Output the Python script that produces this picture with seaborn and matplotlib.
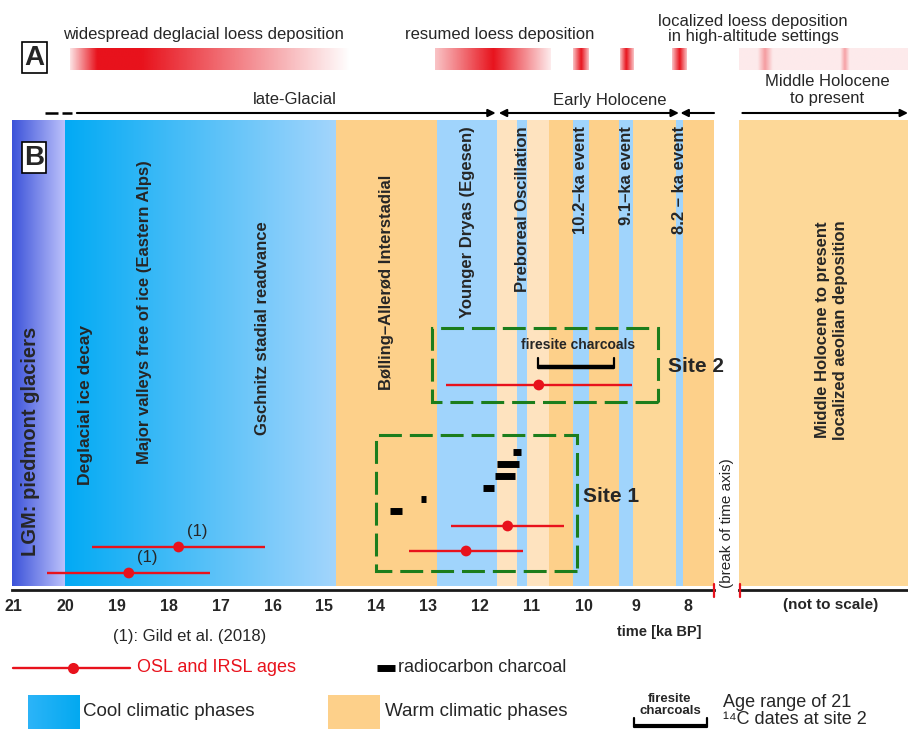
import numpy as np
import pandas as pd
import matplotlib
matplotlib.use("Agg")
import matplotlib.pyplot as plt
import matplotlib.colors as mcolors
from matplotlib.patches import Rectangle
import seaborn as sns

sns.set_style("white")
plt.rcParams["font.family"] = ["Liberation Sans", "DejaVu Sans"]

# ---------------- data (ages in ka BP) ----------------
# gradient-coloured cold intervals
lgm_span = (21.02, 20.0)
deglacial_span = (20.0, 14.78)

# late-Glacial / Early Holocene climate phases
phase_start = [14.78, 12.83, 11.675, 11.29, 11.10, 10.67, 10.21, 9.90, 9.32, 9.05, 8.23, 8.09]
phase_end = [12.83, 11.675, 11.29, 11.10, 10.67, 10.21, 9.90, 9.32, 9.05, 8.23, 8.09, 7.494]
phase_kind = ["warm", "cool", "mild", "cool", "mild", "warm", "cool", "warm",
              "cool", "warm2", "cool", "warm"]

phase_labels = ["LGM: piedmont glaciers", "Deglacial ice decay",
                "Major valleys free of ice (Eastern Alps)", "Gschnitz stadial readvance",
                "Bølling–Allerød Interstadial", "Younger Dryas (Egesen)",
                "Preboreal Oscillation", "10.2–ka event", "9.1–ka event", "8.2 – ka event"]
phase_label_age = [20.67, 19.61, 18.46, 16.20, 13.80, 12.25, 11.19, 10.06, 9.18, 8.16]

# loess deposition episodes (knots of intensity profile)
loess_knots = [[19.90, 19.38, 18.50, 14.51],
               [12.87, 11.75, 10.65],
               [10.21, 10.06, 9.92],
               [9.31, 9.19, 9.05],
               [8.30, 8.16, 8.03]]
loess_intensity = [[0.12, 1.0, 1.0, 0.0],
                   [0.25, 1.0, 0.08],
                   [0.25, 1.0, 0.25],
                   [0.25, 1.0, 0.25],
                   [0.25, 1.0, 0.25]]
# Middle Holocene to present (relative position, not to scale)
late_loess_knots = [-0.024, 0.11, 0.154, 0.20, 0.60, 0.627, 0.655, 1.0]
late_loess_intensity = [0.09, 0.09, 0.42, 0.09, 0.09, 0.40, 0.09, 0.09]

# OSL / IRSL ages
osl_age = [17.81, 18.77, 11.47, 12.27, 10.87]
osl_err = [1.66, 1.57, 1.09, 1.10, 1.79]
osl_note = ["(1)", "(1)", "", "", ""]
osl_lane = [4.3, 1.7, 6.4, 3.9, 20.5]

# radiocarbon charcoal (calibrated ranges), site 1
c14_old = [13.74, 13.14, 11.94, 11.71, 11.67, 11.37]
c14_young = [13.51, 13.04, 11.73, 11.33, 11.25, 11.21]
c14_lane = [7.9, 9.1, 10.2, 11.4, 12.6, 13.8]

# firesite charcoals, site 2 (range of 21 14C dates)
firesite_range = (10.89, 9.42)

# site windows
site_names = ["Site 1", "Site 2"]
site_old = [14.01, 12.93]
site_young = [10.13, 8.57]

ticks = list(range(21, 7, -1))

# ---------------- colours ----------------
RED = "#e8121c"
DOT = "#e8121c"
ORANGE = "#fdd08a"
ORANGE2 = "#fdd898"
PEACH = "#fee3bf"
BLUE = "#a0d4fc"
GREEN = "#1c7d1c"
kind_color = {"warm": ORANGE, "warm2": ORANGE2, "mild": PEACH, "cool": BLUE}

W, H = 908, 729
fig = plt.figure(figsize=(W / 100, H / 100), dpi=100)

ax = fig.add_axes([12 / W, 139 / H, 702 / W, 590 / H])
axr = fig.add_axes([739 / W, 139 / H, 169 / W, 590 / H])

BAND_BOT, BAND_TOP = 0.4, 47.0
XLIM = (21.02, 7.494)
YLIM = (0, 59)


def color_strip(a, x0, x1, c0, c1, y0, y1, n=400):
    t = np.linspace(0, 1, n)[:, None]
    rgb = (1 - t) * np.array(mcolors.to_rgb(c0)) + t * np.array(mcolors.to_rgb(c1))
    a.imshow(rgb[None, :, :], extent=(x0, x1, y0, y1), aspect="auto",
             interpolation="bilinear", origin="lower", zorder=1)


def alpha_strip(a, knots, vals, y0, y1, rgb, n=800):
    k = np.asarray(knots, float)
    v = np.asarray(vals, float)
    xs = np.linspace(k[0], k[-1], n)
    order = np.argsort(k)
    al = np.interp(xs, k[order], v[order])
    img = np.zeros((1, n, 4))
    img[..., :3] = mcolors.to_rgb(rgb)
    img[0, :, 3] = al
    a.imshow(img, extent=(k[0], k[-1], y0, y1), aspect="auto",
             interpolation="bilinear", origin="lower", zorder=2)


# ---------------- panel B: climate bands ----------------
color_strip(ax, lgm_span[0], lgm_span[1], "#3b52d9", "#bcc1fb", BAND_BOT, BAND_TOP)
color_strip(ax, deglacial_span[0], deglacial_span[1], "#02aaf4", "#a3d5fc", BAND_BOT, BAND_TOP)
for s, e, k in zip(phase_start, phase_end, phase_kind):
    ax.fill_between([s, e], BAND_BOT, BAND_TOP, color=kind_color[k], lw=0, zorder=1)
axr.fill_between([0, 1], BAND_BOT, BAND_TOP, color=ORANGE2, lw=0, zorder=1)

# phase labels
label_y = [14.9, 18.5, 27.8, 26.2, 30.8, 46.4, 46.4, 46.4, 46.4, 46.4]
label_va = ["center"] * 5 + ["top"] * 5
label_size = [14.5, 12.6, 12, 12, 12, 12, 12, 12, 12, 12]
for txt, xa, ya, va, fs in zip(phase_labels, phase_label_age, label_y, label_va, label_size):
    ax.text(xa, ya, txt, rotation=90, ha="center", va=va, fontsize=fs,
            fontweight="bold", zorder=6)
axr.text(0.545, 26.0, "Middle Holocene to present\nlocalized aeolian deposition",
         rotation=90, ha="center", va="center", fontsize=12, fontweight="bold",
         multialignment="center", linespacing=1.25)

# site windows
site_lanes = [(1.9, 15.5), (18.8, 26.2)]
for (lo, hi), o, y in zip(site_lanes, site_old, site_young):
    ax.add_patch(Rectangle((y, lo), o - y, hi - lo, fill=False, ec=GREEN, lw=2.2,
                           ls=(0, (7.5, 2.6)), zorder=4))
ax.text(10.02, 9.3, site_names[0], fontsize=15, fontweight="bold", ha="left", va="center", zorder=6)
ax.text(8.38, 22.3, site_names[1], fontsize=15, fontweight="bold", ha="left", va="center", zorder=6)

# radiocarbon charcoal
ax.hlines(c14_lane, c14_old, c14_young, color="black", lw=5, zorder=5)

# firesite charcoals bracket
fo, fy = firesite_range
ax.plot([fo, fy], [22.3, 22.3], color="black", lw=3.2, solid_capstyle="butt", zorder=5)
ax.plot([fo, fo], [22.2, 23.2], color="black", lw=1.6, zorder=5)
ax.plot([fy, fy], [22.2, 23.2], color="black", lw=1.6, zorder=5)
ax.text((fo + fy) / 2 - 0.05, 24.5, "firesite charcoals", ha="center", va="center",
        fontsize=10, fontweight="bold", zorder=6)

# OSL / IRSL ages
osl = pd.DataFrame({"age": osl_age, "err": osl_err, "lane": osl_lane, "note": osl_note})
ax.hlines(osl["lane"], osl["age"] - osl["err"], osl["age"] + osl["err"], color=RED,
          lw=1.7, zorder=5)
sns.scatterplot(data=osl, x="age", y="lane", color=DOT, s=60, edgecolor="none",
                legend=False, ax=ax, zorder=6)
for _, r in osl.iterrows():
    if r["note"]:
        ax.annotate(r["note"], (r["age"], r["lane"]), xytext=(6, 6),
                    textcoords="offset points", fontsize=12, ha="left", va="bottom")

# ---------------- panel A: loess deposition ----------------
for kn, iv in zip(loess_knots, loess_intensity):
    alpha_strip(ax, kn, iv, 52.0, 54.2, RED)
alpha_strip(axr, late_loess_knots, late_loess_intensity, 52.0, 54.2, RED)

ax.text(17.34, 55.5, "widespread deglacial loess deposition", ha="center", va="center", fontsize=12)
ax.text(11.62, 55.5, "resumed loess deposition", ha="center", va="center", fontsize=12)
axr.text(0.083, 56.1, "localized loess deposition\nin high-altitude settings", ha="center",
         va="center", fontsize=12, linespacing=1.05, clip_on=False)

# ---------------- period arrows ----------------
ARR_Y = 47.7
arrow = dict(arrowstyle="-|>", lw=1.5, color="black", mutation_scale=11, shrinkA=0, shrinkB=0)
ax.plot([20.38, 19.87], [ARR_Y, ARR_Y], color="black", lw=1.8, ls=(0, (5.2, 1.6)), clip_on=False)
ax.annotate("", xy=(11.70, ARR_Y), xytext=(19.77, ARR_Y), arrowprops=arrow, annotation_clip=False)
ax.annotate("", xy=(11.64, ARR_Y), xytext=(8.17, ARR_Y),
            arrowprops=dict(arrow, arrowstyle="<|-|>"), annotation_clip=False)
ax.annotate("", xy=(8.14, ARR_Y), xytext=(7.494, ARR_Y), arrowprops=arrow, annotation_clip=False)
axr.annotate("", xy=(1.0, ARR_Y), xytext=(0.02, ARR_Y), arrowprops=arrow, annotation_clip=False)
ax.text(15.57, 49.0, "late-Glacial", ha="center", va="center", fontsize=12)
ax.text(9.5, 49.0, "Early Holocene", ha="center", va="center", fontsize=12)
axr.text(0.52, 50.0, "Middle Holocene\nto present", ha="center", va="center", fontsize=12,
         linespacing=1.15)

# ---------------- axes ----------------
for a in (ax, axr):
    for sp in ("left", "right", "top"):
        a.spines[sp].set_visible(False)
    a.spines["bottom"].set_linewidth(2)
    a.spines["bottom"].set_color("#1a1a1a")
    a.set_yticks([])
    a.set_ylim(*YLIM)
    a.set_xlabel("")
    a.set_ylabel("")
ax.set_xlim(*XLIM)
axr.set_xlim(0, 1)
ax.set_xticks(ticks)
ax.set_xticklabels([str(t) for t in ticks], fontweight="bold", fontsize=11.5)
ax.tick_params(axis="x", direction="out", length=5, width=1.6, pad=1.5, color="#1a1a1a")
axr.set_xticks([])

# axis break marks
ax.plot([XLIM[1], XLIM[1]], [-0.7, 0.6], color=RED, lw=1.6, clip_on=False, zorder=7)
axr.plot([0.006, 0.006], [-0.7, 0.6], color=RED, lw=1.6, clip_on=False, zorder=7)
ax.text(7.24, 0.25, "(break of time axis)", rotation=90, ha="center", va="bottom",
        fontsize=11, clip_on=False)
axr.text(0.545, -1.5, "(not to scale)", ha="center", va="center", fontsize=11,
         fontweight="bold", clip_on=False)
ax.text(8.55, -4.2, "time [ka BP]", ha="center", va="center", fontsize=10.5,
        fontweight="bold", clip_on=False)

# ---------------- overlay: panel letters and legend ----------------
ov = fig.add_axes([0, 0, 1, 1])
box = dict(boxstyle="square,pad=0.08", fc="white", ec="black", lw=1.2)
ov.text(34.5, 57.5, "A", ha="center", va="center", fontsize=20, fontweight="bold", bbox=box)
ov.text(34, 157.5, "B", ha="center", va="center", fontsize=20, fontweight="bold", bbox=box)

ov.text(190, 637, "(1): Gild et al. (2018)", ha="center", va="center", fontsize=12)
ov.plot([13, 130], [668, 668], color=RED, lw=1.7)
ov.plot([73], [668], "o", color=DOT, ms=8, mec="none")
ov.text(137, 668, "OSL and IRSL ages", color=RED, va="center", fontsize=13)
ov.plot([377, 395], [668, 668], color="black", lw=5, solid_capstyle="butt")
ov.text(398, 668, "radiocarbon charcoal", va="center", fontsize=13)

t = np.linspace(0, 1, 100)[:, None]
cool = (1 - t) * np.array(mcolors.to_rgb("#2cb4f8")) + t * np.array(mcolors.to_rgb("#03a9f0"))
ov.imshow(cool[None, :, :], extent=(28, 80, 729, 695), aspect="auto", interpolation="bilinear")
ov.text(83, 712, "Cool climatic phases", va="center", fontsize=13.5)
ov.add_patch(Rectangle((328, 695), 52, 34, color=ORANGE, lw=0))
ov.text(385, 712, "Warm climatic phases", va="center", fontsize=13.5)

ov.text(670, 705, "firesite\ncharcoals", ha="center", va="center", fontsize=9.5,
        fontweight="bold", linespacing=1.0)
ov.plot([634, 707], [726, 726], color="black", lw=3, solid_capstyle="butt")
ov.plot([634, 634], [718, 727], color="black", lw=1.6)
ov.plot([707, 707], [718, 727], color="black", lw=1.6)
ov.text(723, 711, "Age range of 21\n¹⁴C dates at site 2", va="center", fontsize=13,
        linespacing=1.0)

ov.set_xlim(0, W)
ov.set_ylim(H, 0)
ov.axis("off")

fig.savefig("out.png", dpi=100)
